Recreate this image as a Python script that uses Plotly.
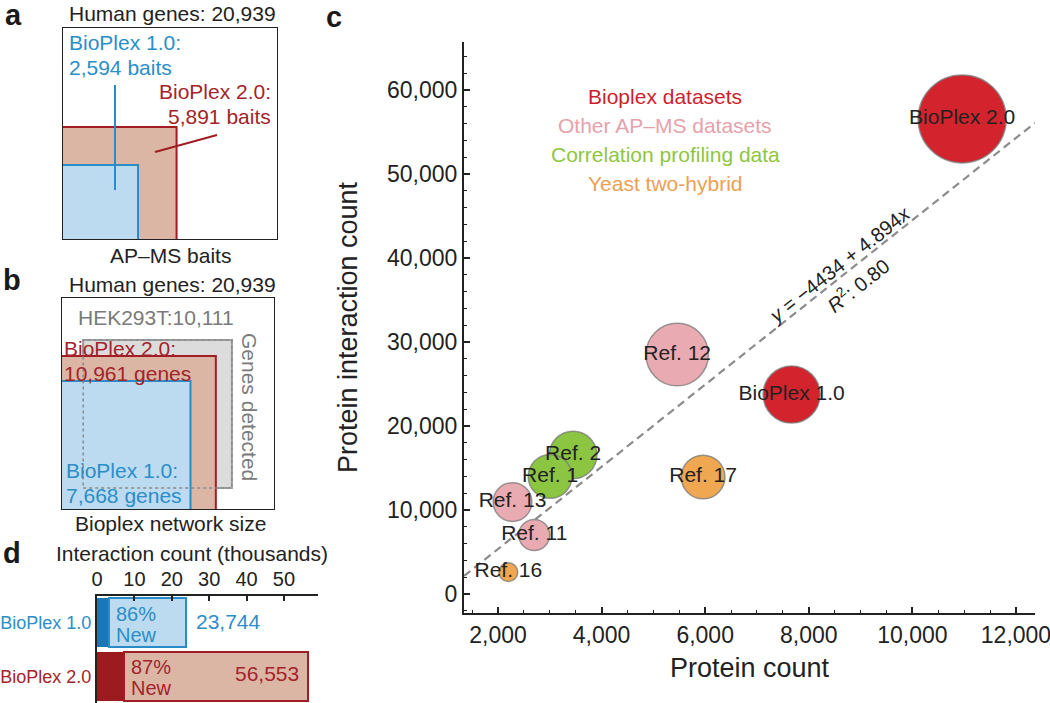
import math
import plotly.graph_objects as go

# ---------------- data ----------------
human_genes = 20939
bait_labels = ["BioPlex 1.0", "BioPlex 2.0"]
bait_counts = [2594, 5891]
network_labels = ["BioPlex 1.0", "BioPlex 2.0"]
network_genes = [7668, 10961]
hek_label = "HEK293T"
hek_genes = 10111

# panel c
dataset_names = ["BioPlex 2.0", "BioPlex 1.0", "Ref. 12", "Ref. 13", "Ref. 11",
                 "Ref. 17", "Ref. 16", "Ref. 2", "Ref. 1"]
protein_count = [10961, 7668, 5460, 2280, 2700, 5960, 2200, 3450, 3006]
interaction_count = [56553, 23744, 28500, 10950, 7020, 13930, 2600, 16550, 13993]
dataset_group = ["Bioplex datasets", "Bioplex datasets", "Other AP–MS datasets",
                 "Other AP–MS datasets", "Other AP–MS datasets", "Yeast two-hybrid",
                 "Yeast two-hybrid", "Correlation profiling data", "Correlation profiling data"]
legend_groups = ["Bioplex datasets", "Other AP–MS datasets",
                 "Correlation profiling data", "Yeast two-hybrid"]
fit_intercept = -4434
fit_slope = 4.894
fit_r2 = 0.80
x_ticks = [2000, 4000, 6000, 8000, 10000, 12000]
y_ticks = [0, 10000, 20000, 30000, 40000, 50000, 60000]

# panel d
bar_labels = ["BioPlex 1.0", "BioPlex 2.0"]
bar_totals = [23744, 56553]
bar_pct_new = [86, 87]
d_ticks = [0, 10, 20, 30, 40, 50]

# ---------------- style ----------------
W, H = 1050, 703
FONT = "Liberation Sans, Arial, Helvetica, sans-serif"
INK = "#222222"
BLUE_LINE = "#2a8cc6"
BLUE_FILL = "#bcdaf0"
BLUE_DARK = "#1b76b3"
BLUE_TEXT = "#2b8ec8"
RED_LINE = "#a11d23"
RED_TEXT = "#a3242a"
RED_DARK = "#9b1b1f"
BROWN_FILL = "#dcb6a5"
GREY_FILL = "#dcdcdc"
GREY_LINE = "#9c9c9c"
GREY_TEXT = "#7a7a7a"
group_fill = {"Bioplex datasets": "#d3232c", "Other AP–MS datasets": "#e9aab2",
              "Correlation profiling data": "#8cc541", "Yeast two-hybrid": "#f0a751"}
group_text = {"Bioplex datasets": "#cc1f2c", "Other AP–MS datasets": "#e6a2ab",
              "Correlation profiling data": "#8dc63f", "Yeast two-hybrid": "#eda052"}


def PX(x):
    return x / W


def PY(y):
    return 1 - y / H


fig = go.Figure()
annotations = []
shapes = []


def text(t, x, y, size=21, color=INK, xanchor="center", angle=0, bold=False):
    annotations.append(dict(text=(f"<b>{t}</b>" if bold else t), x=PX(x), y=PY(y),
                            xref="paper", yref="paper", showarrow=False,
                            xanchor=xanchor, yanchor="middle", textangle=angle,
                            font=dict(family=FONT, size=size, color=color)))


def square(side, ax, fill, line, off=0.0, dash="solid", width=2):
    shapes.append(dict(type="rect", xref="x" + ax, yref="y" + ax,
                       x0=off, y0=off, x1=off + side, y1=off + side,
                       fillcolor=fill, line=dict(color=line, width=width, dash=dash),
                       layer="above"))


S = math.sqrt(human_genes)

# ---------------- panel a ----------------
square(math.sqrt(bait_counts[1]), "2", BROWN_FILL, RED_LINE)
square(math.sqrt(bait_counts[0]), "2", BLUE_FILL, BLUE_LINE)
square(S, "2", "rgba(0,0,0,0)", INK)
shapes.append(dict(type="line", xref="paper", yref="paper", x0=PX(115), y0=PY(85),
                   x1=PX(115), y1=PY(190), line=dict(color=BLUE_LINE, width=2)))
shapes.append(dict(type="line", xref="paper", yref="paper", x0=PX(155), y0=PY(152),
                   x1=PX(217), y1=PY(135), line=dict(color=RED_LINE, width=2)))
text(f"Human genes: {human_genes:,}", 172, 14)
text(f"{bait_labels[0]}:", 67, 43, color=BLUE_TEXT, xanchor="left")
text(f"{bait_counts[0]:,} baits", 67, 67, color=BLUE_TEXT, xanchor="left")
text(f"{bait_labels[1]}:", 273, 91, color=RED_TEXT, xanchor="right")
text(f"{bait_counts[1]:,} baits", 273, 116, color=RED_TEXT, xanchor="right")
text("AP–MS baits", 170, 256)

# ---------------- panel b ----------------
square(math.sqrt(hek_genes), "3", GREY_FILL, GREY_LINE, off=15)
square(math.sqrt(network_genes[1]), "3", BROWN_FILL, RED_LINE)
square(math.sqrt(network_genes[0]), "3", BLUE_FILL, BLUE_LINE)
square(math.sqrt(hek_genes), "3", "rgba(0,0,0,0)", "#8a8a8a", off=15, dash="dot", width=1.5)
square(S, "3", "rgba(0,0,0,0)", INK)
text(f"Human genes: {human_genes:,}", 172, 284)
text(f"{hek_label}:{hek_genes:,}", 156, 317, color=GREY_TEXT)
text(f"{network_labels[1]}:", 62, 348, color=RED_TEXT, xanchor="left")
text(f"{network_genes[1]:,} genes", 62, 373, color=RED_TEXT, xanchor="left")
text("Genes detected", 250, 407, color=GREY_TEXT, angle=90)
text(f"{network_labels[0]}:", 64, 470, color=BLUE_TEXT, xanchor="left")
text(f"{network_genes[0]:,} genes", 64, 495, color=BLUE_TEXT, xanchor="left")
text("Bioplex network size", 170, 523)

# ---------------- panel c ----------------
x_lo, x_hi = 1344, 12367
fig.add_trace(go.Scatter(x=[x_lo, x_hi],
                         y=[fit_intercept + fit_slope * x_lo, fit_intercept + fit_slope * x_hi],
                         mode="lines", line=dict(color="#8c8c8c", width=2.2, dash="8px,5px"),
                         xaxis="x", yaxis="y", hoverinfo="skip", showlegend=False))
sizeref = 2.0 * max(interaction_count) / (88 ** 2)
for g in ["Bioplex datasets", "Other AP–MS datasets", "Yeast two-hybrid",
          "Correlation profiling data"]:
    idx = [i for i, d in enumerate(dataset_group) if d == g]
    fig.add_trace(go.Scatter(
        x=[protein_count[i] for i in idx], y=[interaction_count[i] for i in idx],
        mode="markers", name=g,
        marker=dict(size=[interaction_count[i] for i in idx], sizemode="area",
                    sizeref=sizeref, color=group_fill[g], opacity=1,
                    line=dict(color="rgba(120,120,120,0.75)", width=1.5)),
        xaxis="x", yaxis="y", hoverinfo="skip", showlegend=False))
fig.add_trace(go.Scatter(x=protein_count, y=interaction_count, text=dataset_names,
                         mode="text", textposition="middle center",
                         textfont=dict(family=FONT, size=21, color=INK),
                         xaxis="x", yaxis="y", hoverinfo="skip", showlegend=False))
for k, g in enumerate(legend_groups):
    text(g, 665, [97, 126, 155, 184][k], size=21, color=group_text[g])
text(f"<i>y</i> = −{abs(fit_intercept)} + {fit_slope}<i>x</i>", 839, 265, size=20, angle=-38.4)
text(f"<i>R</i><sup>2</sup>: {fit_r2:.2f}", 857, 284, size=20, angle=-38.4)

# ---------------- panel d ----------------
known = [t * (100 - p) / 100 / 1000 for t, p in zip(bar_totals, bar_pct_new)]
new = [t * p / 100 / 1000 for t, p in zip(bar_totals, bar_pct_new)]
fig.add_trace(go.Bar(y=bar_labels, x=known, orientation="h",
                     marker=dict(color=[BLUE_DARK, RED_DARK], line=dict(width=0)),
                     xaxis="x4", yaxis="y4", hoverinfo="skip", showlegend=False))
fig.add_trace(go.Bar(y=bar_labels, x=new, orientation="h",
                     marker=dict(color=[BLUE_FILL, BROWN_FILL],
                                 line=dict(color=[BLUE_LINE, RED_LINE], width=2)),
                     xaxis="x4", yaxis="y4", hoverinfo="skip", showlegend=False))
bar_col = [BLUE_TEXT, RED_TEXT]
for i, lab in enumerate(bar_labels):
    for t, ys in [(f"{bar_pct_new[i]}%", 9), ("New", -12)]:
        annotations.append(dict(text=t, x=known[i], y=lab, xref="x4", yref="y4",
                                showarrow=False, xanchor="left", yanchor="middle",
                                xshift=5, yshift=ys,
                                font=dict(family=FONT, size=20, color=bar_col[i])))
annotations.append(dict(text=f"{bar_totals[0]:,}", x=bar_totals[0] / 1000, y=bar_labels[0],
                        xref="x4", yref="y4", showarrow=False, xanchor="left",
                        xshift=8, yshift=1, font=dict(family=FONT, size=21, color=BLUE_TEXT)))
annotations.append(dict(text=f"{bar_totals[1]:,}", x=bar_totals[1] / 1000, y=bar_labels[1],
                        xref="x4", yref="y4", showarrow=False, xanchor="right",
                        xshift=-7, yshift=3, font=dict(family=FONT, size=21, color=RED_TEXT)))
text("Interaction count (thousands)", 192, 553)

# panel letters
for lt, (lx, ly) in zip("abcd", [(13, 15), (12, 280), (334, 17), (12, 553)]):
    text(lt, lx, ly, size=29, color="#1a1a1a", bold=True)

hidden = dict(visible=False, showgrid=False, zeroline=False, fixedrange=True)
axis_c = dict(ticks="inside", ticklen=6, tickwidth=1.5, tickcolor=INK, showline=True,
              linecolor=INK, linewidth=2, showgrid=False, zeroline=False, automargin=False,
              ticklabeloverflow="allow",
              tickfont=dict(family=FONT, size=23, color=INK))

fig.update_layout(
    width=W, height=H, margin=dict(l=0, r=0, t=0, b=0),
    paper_bgcolor="white", plot_bgcolor="rgba(0,0,0,0)",
    font=dict(family=FONT, color=INK), showlegend=False,
    xaxis=dict(domain=[PX(464), PX(1035)], range=[x_lo, x_hi], anchor="y",
               tickmode="array", tickvals=x_ticks, ticktext=[f"{v:,}" for v in x_ticks],
               minor=dict(tick0=0, dtick=500, ticks="inside", ticklen=3, tickcolor=INK,
                          tickwidth=1.2),
               title=dict(text="Protein count", font=dict(family=FONT, size=27, color=INK),
                          standoff=12), **axis_c),
    yaxis=dict(domain=[PY(613), PY(42)], range=[-2262, 65714], anchor="x",
               tickmode="array", tickvals=y_ticks, ticktext=[f"{v:,}" for v in y_ticks],
               minor=dict(tick0=0, dtick=2000, ticks="inside", ticklen=3, tickcolor=INK,
                          tickwidth=1.2),
               title=dict(text="Protein interaction count",
                          font=dict(family=FONT, size=27, color=INK), standoff=22), **axis_c),
    xaxis2=dict(domain=[PX(62), PX(278)], range=[0, S], anchor="y2", **hidden),
    yaxis2=dict(domain=[PY(240), PY(27)], range=[0, S], anchor="x2", **hidden),
    xaxis3=dict(domain=[PX(61), PX(275)], range=[0, S], anchor="y3", **hidden),
    yaxis3=dict(domain=[PY(510), PY(297)], range=[0, S], anchor="x3", **hidden),
    xaxis4=dict(domain=[PX(97), PX(318)], range=[0, 59.1], anchor="y4", side="top",
                tickmode="array", tickvals=d_ticks, ticks="inside", ticklen=5, tickwidth=1.5,
                tickcolor=INK, showline=True, linecolor=INK, linewidth=2, showgrid=False,
                zeroline=False, automargin=False,
                tickfont=dict(family=FONT, size=20, color=INK)),
    yaxis4=dict(domain=[0, PY(596)], anchor="x4", type="category", autorange="reversed",
                showline=True, linecolor=INK, linewidth=2, ticks="", showgrid=False,
                zeroline=False, automargin=False, tickmode="array", tickvals=bar_labels,
                ticktext=[f'<span style="color:{c}">{l}</span>' for l, c in zip(bar_labels, bar_col)],
                tickfont=dict(family=FONT, size=18)),
    barmode="stack", bargap=0.08,
    annotations=annotations, shapes=shapes,
)

fig.write_html("out.html", config={"displayModeBar": False},
               post_script="document.body.style.margin='0';document.body.style.overflow='hidden';")
